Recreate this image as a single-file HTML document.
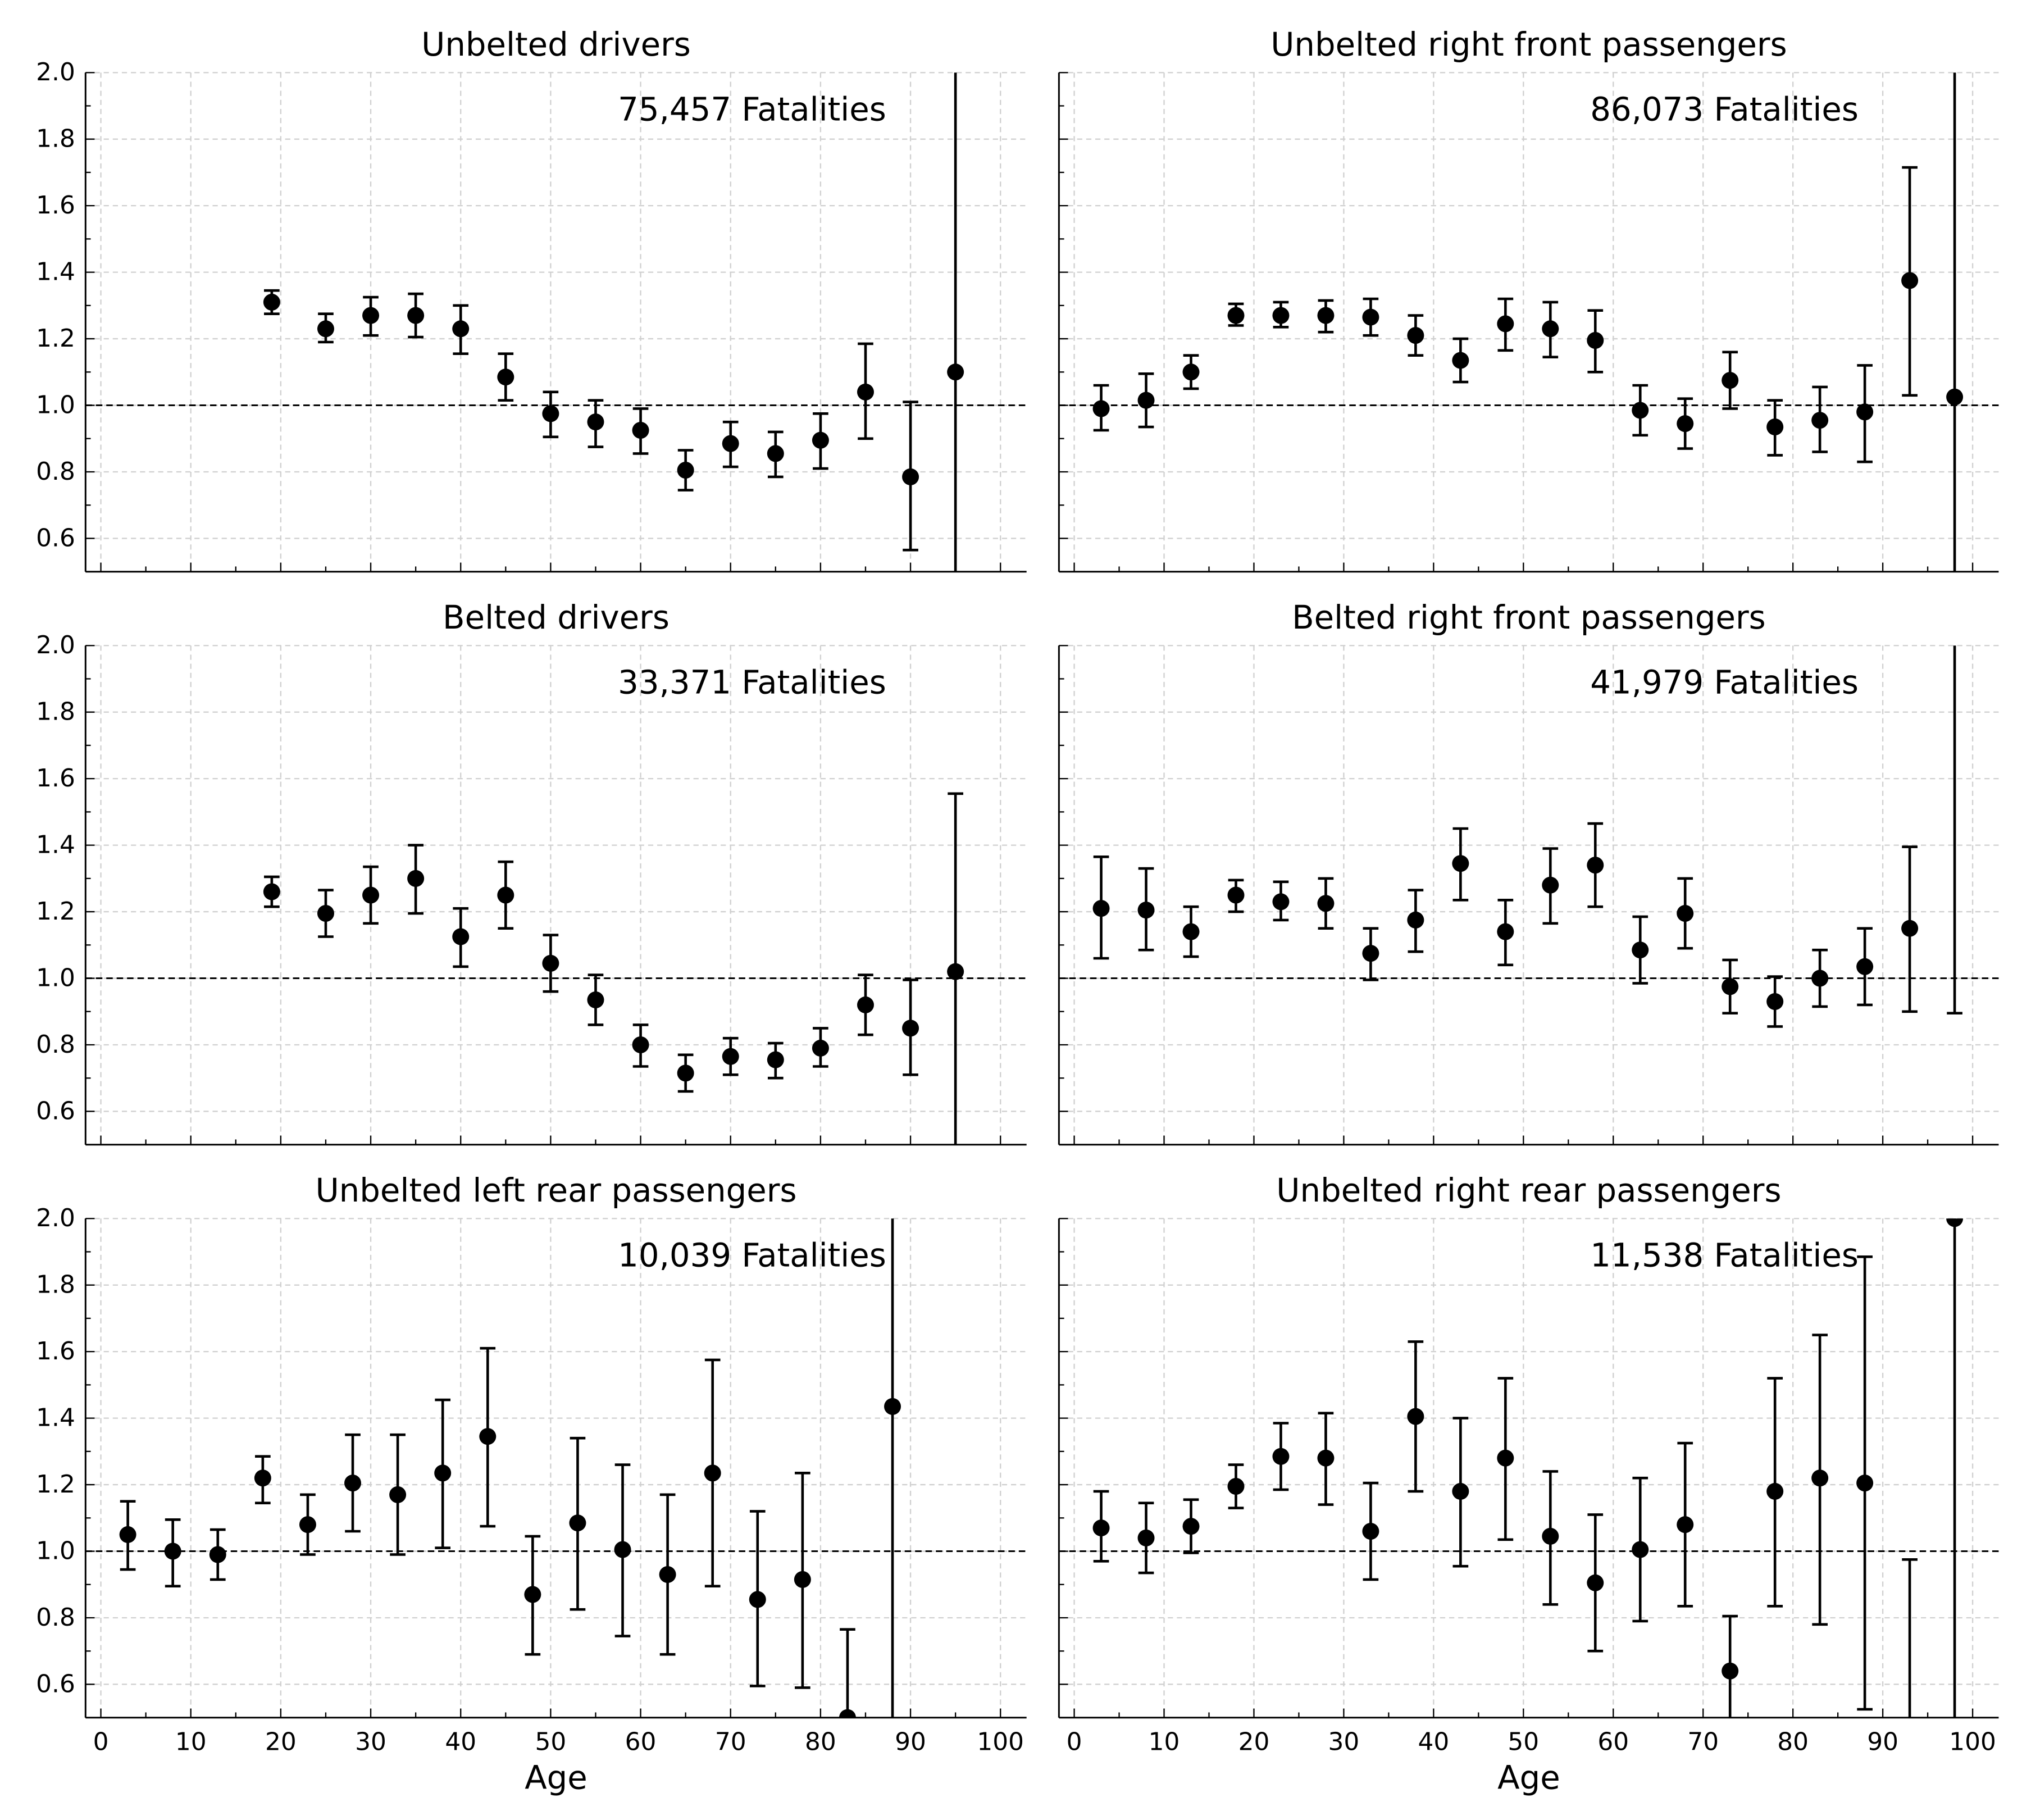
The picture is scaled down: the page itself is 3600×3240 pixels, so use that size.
<!DOCTYPE html>
<html><head><meta charset="utf-8"><style>
html,body{margin:0;padding:0;background:#fff;overflow:hidden;width:3600px;height:3240px}
svg{display:block}
text{font-family:"DejaVu Sans","Liberation Sans",sans-serif;fill:#000}
</style></head><body>
<svg id="fig" width="3600" height="3240" viewBox="0 0 1560 1404" xmlns="http://www.w3.org/2000/svg"></svg>
<script>
const panelTitles = ["Unbelted drivers","Unbelted right front passengers","Belted drivers","Belted right front passengers","Unbelted left rear passengers","Unbelted right rear passengers"];
const panelFatalities = ["75,457 Fatalities","86,073 Fatalities","33,371 Fatalities","41,979 Fatalities","10,039 Fatalities","11,538 Fatalities"];
const xTicks = [0,10,20,30,40,50,60,70,80,90,100];
const yTicks = [0.6,0.8,1.0,1.2,1.4,1.6,1.8,2.0];
const yTickLabels = ["0.6","0.8","1.0","1.2","1.4","1.6","1.8","2.0"];

const ages1 = [19,25,30,35,40,45,50,55,60,65,70,75,80,85,90,95];
const val1 = [1.31,1.23,1.27,1.27,1.23,1.085,0.975,0.95,0.925,0.805,0.885,0.855,0.895,1.04,0.785,1.10];
const lo1 = [1.275,1.19,1.21,1.205,1.155,1.015,0.905,0.875,0.855,0.745,0.815,0.785,0.81,0.90,0.565,0.3];
const hi1 = [1.345,1.275,1.325,1.335,1.30,1.155,1.04,1.015,0.99,0.865,0.95,0.92,0.975,1.185,1.01,2.5];

const ages2 = [3,8,13,18,23,28,33,38,43,48,53,58,63,68,73,78,83,88,93,98];
const val2 = [0.99,1.015,1.10,1.27,1.27,1.27,1.265,1.21,1.135,1.245,1.23,1.195,0.985,0.945,1.075,0.935,0.955,0.98,1.375,1.025];
const lo2 = [0.925,0.935,1.05,1.24,1.235,1.22,1.21,1.15,1.07,1.165,1.145,1.10,0.91,0.87,0.99,0.85,0.86,0.83,1.03,0.3];
const hi2 = [1.06,1.095,1.15,1.305,1.31,1.315,1.32,1.27,1.20,1.32,1.31,1.285,1.06,1.02,1.16,1.015,1.055,1.12,1.715,2.5];

const ages3 = [19,25,30,35,40,45,50,55,60,65,70,75,80,85,90,95];
const val3 = [1.26,1.195,1.25,1.30,1.125,1.25,1.045,0.935,0.80,0.715,0.765,0.755,0.79,0.92,0.85,1.02];
const lo3 = [1.215,1.125,1.165,1.195,1.035,1.15,0.96,0.86,0.735,0.66,0.71,0.70,0.735,0.83,0.71,0.3];
const hi3 = [1.305,1.265,1.335,1.40,1.21,1.35,1.13,1.01,0.86,0.77,0.82,0.805,0.85,1.01,0.995,1.555];

const ages4 = [3,8,13,18,23,28,33,38,43,48,53,58,63,68,73,78,83,88,93,98];
const val4 = [1.21,1.205,1.14,1.25,1.23,1.225,1.075,1.175,1.345,1.14,1.28,1.34,1.085,1.195,0.975,0.93,1.0,1.035,1.15,2.3];
const lo4 = [1.06,1.085,1.065,1.20,1.175,1.15,0.995,1.08,1.235,1.04,1.165,1.215,0.985,1.09,0.895,0.855,0.915,0.92,0.90,0.895];
const hi4 = [1.365,1.33,1.215,1.295,1.29,1.30,1.15,1.265,1.45,1.235,1.39,1.465,1.185,1.30,1.055,1.005,1.085,1.15,1.395,3.0];

const ages5 = [3,8,13,18,23,28,33,38,43,48,53,58,63,68,73,78,83,88];
const val5 = [1.05,1.0,0.99,1.22,1.08,1.205,1.17,1.235,1.345,0.87,1.085,1.005,0.93,1.235,0.855,0.915,0.5,1.435];
const lo5 = [0.945,0.895,0.915,1.145,0.99,1.06,0.99,1.01,1.075,0.69,0.825,0.745,0.69,0.895,0.595,0.59,0.3,0.3];
const hi5 = [1.15,1.095,1.065,1.285,1.17,1.35,1.35,1.455,1.61,1.045,1.34,1.26,1.17,1.575,1.12,1.235,0.765,2.5];

const ages6 = [3,8,13,18,23,28,33,38,43,48,53,58,63,68,73,78,83,88,93,98];
const val6 = [1.07,1.04,1.075,1.195,1.285,1.28,1.06,1.405,1.18,1.28,1.045,0.905,1.005,1.08,0.64,1.18,1.22,1.205,0.3,2.0];
const lo6 = [0.97,0.935,0.995,1.13,1.185,1.14,0.915,1.18,0.955,1.035,0.84,0.70,0.79,0.835,0.48,0.835,0.78,0.525,-0.4,0.3];
const hi6 = [1.18,1.145,1.155,1.26,1.385,1.415,1.205,1.63,1.40,1.52,1.24,1.11,1.22,1.325,0.805,1.52,1.65,1.885,0.975,3.0];

const allAges=[ages1,ages2,ages3,ages4,ages5,ages6];
const allVals=[val1,val2,val3,val4,val5,val6];
const allLo=[lo1,lo2,lo3,lo4,lo5,lo6];
const allHi=[hi1,hi2,hi3,hi4,hi5,hi6];

const NS="http://www.w3.org/2000/svg";
const svg=document.getElementById('fig');
function mk(tag,attrs,parent){const e=document.createElementNS(NS,tag);for(const k in attrs)e.setAttribute(k,attrs[k]);(parent||svg).appendChild(e);return e;}

const colX=[[66,792],[817,1542]];
const rowY=[[56,441],[498,883],[940,1325]];
const X0=-1.7,X1=102.9,Y0=0.5,Y1=2.0;

for(let p=0;p<6;p++){
  const c=p%2,r=Math.floor(p/2);
  const [L,R]=colX[c],[T,B]=rowY[r];
  const sx=v=>L+(v-X0)/(X1-X0)*(R-L);
  const sy=v=>B-(v-Y0)/(Y1-Y0)*(B-T);
  const g=mk('g',{});
  
  
  const cp=mk('clipPath',{id:'cp'+p},g);
  mk('rect',{x:L,y:T,width:R-L,height:B-T},cp);
  xTicks.forEach(t=>{const l=mk('line',{x1:sx(t),x2:sx(t),y1:T,y2:B,stroke:'#d0d0d0','stroke-width':1,'stroke-dasharray':'4,3'},g);});
  yTicks.forEach(t=>{const l=mk('line',{x1:L,x2:R,y1:sy(t),y2:sy(t),stroke:'#d0d0d0','stroke-width':1,'stroke-dasharray':'4,3'},g);});
  const ref=mk('line',{x1:L,x2:R,y1:sy(1),y2:sy(1),stroke:'#000','stroke-width':1.3,'stroke-dasharray':'5,3'},g);
  
  
  const dg=mk('g',{'clip-path':'url(#cp'+p+')'},g);
  const A=allAges[p],V=allVals[p],LO=allLo[p],HI=allHi[p];
  for(let i=0;i<A.length;i++){
    const x=sx(A[i]);
    const eb=mk('g',{stroke:'#000','stroke-width':2,fill:'none'},dg);
    
    
    mk('line',{x1:x,x2:x,y1:sy(LO[i]),y2:sy(HI[i])},eb);
    mk('line',{x1:x-6,x2:x+6,y1:sy(LO[i]),y2:sy(LO[i])},eb);
    mk('line',{x1:x-6,x2:x+6,y1:sy(HI[i]),y2:sy(HI[i])},eb);
    const pt=mk('circle',{cx:x,cy:sy(V[i]),r:6.5,fill:'#000'},dg);
    
    
  }
  mk('line',{x1:L,x2:L,y1:T,y2:B,stroke:'#000','stroke-width':1.3},g);
  mk('line',{x1:L,x2:R,y1:B,y2:B,stroke:'#000','stroke-width':1.3},g);
  for(let t=0;t<=100;t+=5){const len=t%10===0?7:4;mk('line',{x1:sx(t),x2:sx(t),y1:B,y2:B-len,stroke:'#000','stroke-width':1},g);}
  for(let k=5;k<=20;k++){const t=k/10;const len=k%2===0?7:4;mk('line',{x1:L,x2:L+len,y1:sy(t),y2:sy(t),stroke:'#000','stroke-width':1},g);}
  if(c===0){yTicks.forEach((t,i)=>{const tx=mk('text',{x:L-8,y:sy(t)+6,'text-anchor':'end','font-size':19},g);tx.textContent=yTickLabels[i];});}
  if(r===2){
    xTicks.forEach(t=>{const tx=mk('text',{x:sx(t),y:B+25,'text-anchor':'middle','font-size':19},g);tx.textContent=String(t);});
    const at=mk('text',{x:(L+R)/2,y:B+55,'text-anchor':'middle','font-size':25},g);at.textContent='Age';
    
    
  }
  const tt=mk('text',{x:(L+R)/2,y:T-13,'text-anchor':'middle','font-size':25},g);tt.textContent=panelTitles[p];
  
  
  const an=mk('text',{x:sx(87.3),y:T+37,'text-anchor':'end','font-size':25},g);an.textContent=panelFatalities[p];
  
  
}
</script>
</body></html>
